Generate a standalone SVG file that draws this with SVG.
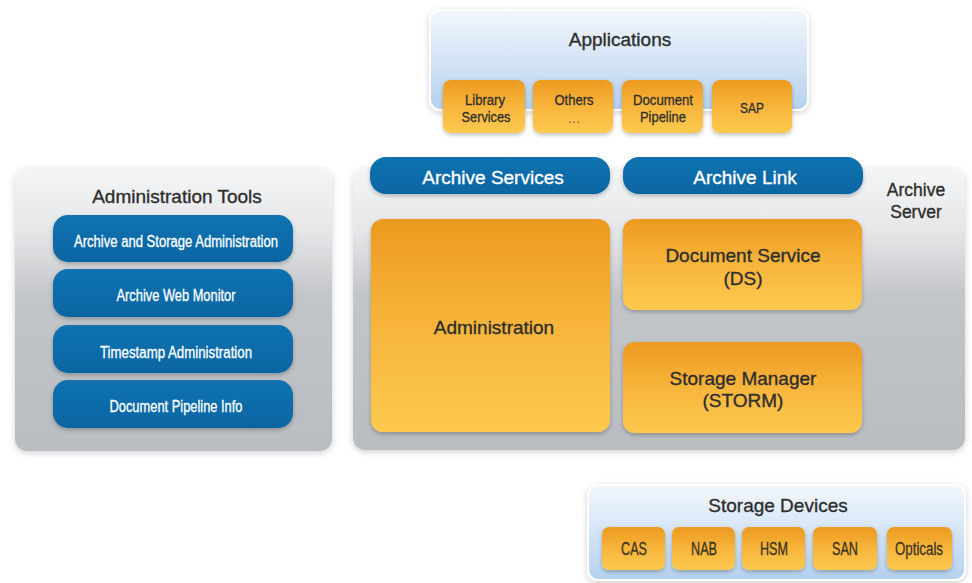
<svg xmlns="http://www.w3.org/2000/svg" width="972" height="583" viewBox="0 0 972 583">
  <defs>
    <linearGradient id="gOrange" x1="0" y1="0" x2="0" y2="1">
      <stop offset="0" stop-color="#ec9a20"/>
      <stop offset="0.5" stop-color="#f7b53b"/>
      <stop offset="1" stop-color="#fdc94f"/>
    </linearGradient>
    <linearGradient id="gBlue" x1="0" y1="0" x2="0" y2="1">
      <stop offset="0" stop-color="#1273b0"/>
      <stop offset="1" stop-color="#0665a3"/>
    </linearGradient>
    <linearGradient id="gGrey" x1="0" y1="0" x2="0" y2="1">
      <stop offset="0" stop-color="#f4f5f6"/>
      <stop offset="0.22" stop-color="#e6e7e9"/>
      <stop offset="0.45" stop-color="#c3c6c9"/>
      <stop offset="1" stop-color="#b9bcc0"/>
    </linearGradient>
    <linearGradient id="gSky" x1="0" y1="0" x2="0" y2="1">
      <stop offset="0" stop-color="#f3f7fc"/>
      <stop offset="1" stop-color="#b5d1ee"/>
    </linearGradient>
    <filter id="shadow" x="-10%" y="-10%" width="120%" height="130%">
      <feDropShadow dx="0" dy="2" stdDeviation="2" flood-color="#000" flood-opacity="0.25"/>
    </filter>
    <filter id="panelShadow" x="-10%" y="-10%" width="120%" height="130%">
      <feDropShadow dx="0" dy="2" stdDeviation="3" flood-color="#000" flood-opacity="0.18"/>
    </filter>
  </defs>
  <style>
    text { font-family: "Liberation Sans", Arial, sans-serif; text-anchor: middle; }
    .title { font-size: 19px; fill: #2e2e2e; stroke: #2e2e2e; stroke-width: 0.35px; }
    .big { font-size: 19px; fill: #2e2e2e; stroke: #2e2e2e; stroke-width: 0.35px; }
    .server { font-size: 17.5px; fill: #2e2e2e; stroke: #2e2e2e; stroke-width: 0.35px; }
    .pillText { font-size: 19px; fill: #fff; stroke: #fff; stroke-width: 0.35px; }
    .tool { font-size: 16px; fill: #fff; stroke: #fff; stroke-width: 0.3px; }
    .small { font-size: 15.5px; fill: #2e2e2e; stroke: #2e2e2e; stroke-width: 0.3px; }
    .device { font-size: 17.5px; fill: #3a3322; stroke: #3a3322; stroke-width: 0.3px; }
    .dots { font-size: 13px; fill: #6b5a3a; }
    .orange { fill: url(#gOrange); filter: url(#shadow); }
    .blue { fill: url(#gBlue); filter: url(#shadow); }
    .grey { fill: url(#gGrey); filter: url(#panelShadow); }
    .sky { fill: url(#gSky); stroke: #fff; stroke-width: 2; filter: url(#panelShadow); }
  </style>

  <rect width="972" height="583" fill="#fff"/>

  <!-- Applications layer -->
  <g id="applications">
    <rect class="sky" x="430" y="10" width="378" height="100" rx="10"/>
    <text class="title" x="620" y="46">Applications</text>
  </g>
  <g id="app-library">
    <rect class="orange" x="443" y="80" width="82" height="53" rx="8"/>
    <text class="small" x="485" y="105" textLength="40" lengthAdjust="spacingAndGlyphs">Library</text>
    <text class="small" x="486" y="122" textLength="49" lengthAdjust="spacingAndGlyphs">Services</text>
  </g>
  <g id="app-others">
    <rect class="orange" x="533" y="80" width="80" height="53" rx="8"/>
    <text class="small" x="574" y="105" textLength="39" lengthAdjust="spacingAndGlyphs">Others</text>
    <text class="dots" x="574" y="123">…</text>
  </g>
  <g id="app-pipeline">
    <rect class="orange" x="622" y="80" width="81" height="53" rx="8"/>
    <text class="small" x="663" y="105" textLength="60" lengthAdjust="spacingAndGlyphs">Document</text>
    <text class="small" x="663" y="122" textLength="46" lengthAdjust="spacingAndGlyphs">Pipeline</text>
  </g>
  <g id="app-sap">
    <rect class="orange" x="712" y="80" width="80" height="53" rx="8"/>
    <text class="small" x="752" y="113" textLength="24" lengthAdjust="spacingAndGlyphs">SAP</text>
  </g>

  <!-- Administration tools -->
  <g id="admin-tools">
    <rect class="grey" x="15" y="168" width="317" height="283" rx="12"/>
    <text class="title" x="177" y="203">Administration Tools</text>
  </g>
  <g id="tool-archive-storage">
    <rect class="blue" x="53" y="215" width="240" height="47" rx="15"/>
    <text class="tool" x="176" y="247" textLength="204" lengthAdjust="spacingAndGlyphs">Archive and Storage Administration</text>
  </g>
  <g id="tool-web-monitor">
    <rect class="blue" x="53" y="269" width="240" height="48" rx="15"/>
    <text class="tool" x="176" y="301" textLength="119" lengthAdjust="spacingAndGlyphs">Archive Web Monitor</text>
  </g>
  <g id="tool-timestamp">
    <rect class="blue" x="53" y="325" width="240" height="48" rx="15"/>
    <text class="tool" x="176" y="358" textLength="152" lengthAdjust="spacingAndGlyphs">Timestamp Administration</text>
  </g>
  <g id="tool-pipeline-info">
    <rect class="blue" x="53" y="380" width="240" height="48" rx="15"/>
    <text class="tool" x="176" y="412" textLength="133" lengthAdjust="spacingAndGlyphs">Document Pipeline Info</text>
  </g>

  <!-- Archive server -->
  <g id="archive-server">
    <rect class="grey" x="353" y="168" width="612" height="282" rx="12"/>
    <text class="server" x="916" y="196">Archive</text>
    <text class="server" x="916" y="218">Server</text>
  </g>
  <g id="archive-services">
    <rect class="blue" x="370" y="157" width="240" height="37" rx="16"/>
    <text class="pillText" x="493" y="184">Archive Services</text>
  </g>
  <g id="archive-link">
    <rect class="blue" x="623" y="157" width="240" height="37" rx="16"/>
    <text class="pillText" x="745" y="184">Archive Link</text>
  </g>
  <g id="administration">
    <rect class="orange" x="371" y="219" width="239" height="213" rx="12"/>
    <text class="big" x="494" y="334">Administration</text>
  </g>
  <g id="document-service">
    <rect class="orange" x="623" y="219" width="239" height="91" rx="12"/>
    <text class="big" x="743" y="262">Document Service</text>
    <text class="big" x="743" y="285">(DS)</text>
  </g>
  <g id="storage-manager">
    <rect class="orange" x="623" y="342" width="239" height="91" rx="12"/>
    <text class="big" x="743" y="385">Storage Manager</text>
    <text class="big" x="743" y="407">(STORM)</text>
  </g>

  <!-- Storage devices -->
  <g id="storage-devices">
    <rect class="sky" x="588" y="485" width="377" height="95" rx="10"/>
    <text class="big" x="778" y="512">Storage Devices</text>
  </g>
  <g id="dev-cas">
    <rect class="orange" x="602" y="527" width="63" height="43" rx="7"/>
    <text class="device" x="634" y="555" textLength="26" lengthAdjust="spacingAndGlyphs">CAS</text>
  </g>
  <g id="dev-nab">
    <rect class="orange" x="672" y="527" width="63" height="43" rx="7"/>
    <text class="device" x="704" y="555" textLength="26" lengthAdjust="spacingAndGlyphs">NAB</text>
  </g>
  <g id="dev-hsm">
    <rect class="orange" x="742" y="527" width="63" height="43" rx="7"/>
    <text class="device" x="774" y="555" textLength="28" lengthAdjust="spacingAndGlyphs">HSM</text>
  </g>
  <g id="dev-san">
    <rect class="orange" x="813" y="527" width="64" height="43" rx="7"/>
    <text class="device" x="845" y="555" textLength="26" lengthAdjust="spacingAndGlyphs">SAN</text>
  </g>
  <g id="dev-opticals">
    <rect class="orange" x="887" y="527" width="65" height="43" rx="7"/>
    <text class="device" x="919" y="555" textLength="48" lengthAdjust="spacingAndGlyphs">Opticals</text>
  </g>

  <!-- no connectors are drawn in this layout -->
  <g id="connectors"/>
</svg>
